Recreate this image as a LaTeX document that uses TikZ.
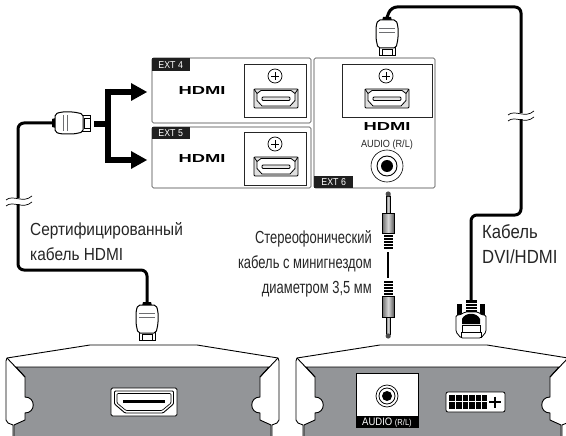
\documentclass[tikz,border=0pt]{standalone}
\usepackage{fontspec}
\usepackage{graphicx}
\setmainfont[FakeStretch=0.88]{Liberation Sans}
\newfontfamily\condfont[FakeStretch=0.74]{Liberation Sans}
\newfontfamily\plainfont{Liberation Sans}
\usetikzlibrary{arrows.meta}
\definecolor{panelgray}{HTML}{939598}
\definecolor{linegray}{HTML}{6D6E71}
\tikzset{
  x=1pt,y=-1pt,
  cable/.style={line width=3pt,black,rounded corners=6pt},
  panel/.style={draw=black!75,line width=.7pt,rounded corners=1.5pt,fill=white},
  inner/.style={draw=black!85,line width=.7pt,fill=white},
  tag/.style={fill=black!88,text=white,inner sep=0pt,font=\fontsize{10}{10}\selectfont},
  caption/.style={font=\fontsize{17.5}{18}\selectfont,inner sep=0pt,text=black!85},
  bigcaption/.style={font=\fontsize{19}{18}\selectfont},
  condcaption/.style={font=\condfont\fontsize{17.5}{18}\selectfont},
  split/.style={line width=6pt,black},
  plugline/.style={draw=black,line width=.8pt,fill=white},
  wire/.style={line width=.9pt,black},
}
\newcommand{\hdmiplug}[3]{%
  \begin{scope}[shift={(#1,#2)},rotate=#3]
    \fill[black] (-4,-3) -- (4,-3) -- (5,1) -- (-5,1) -- cycle;
    \draw[plugline,line width=.9pt] (-8,26) rectangle (8,35);
    \draw[plugline,fill=white] (-5,29) rectangle (5,35);
    \draw[plugline,rounded corners=2pt,line width=1pt] (-9,0) -- (9,0) -- (11,6) -- (11,19) -- (9,28) -- (-9,28) -- (-11,19) -- (-11,6) -- cycle;
    \draw[line width=.9pt,linegray] (-8,8) -- (8,8) (-8,12) -- (8,12);
  \end{scope}}
\newcommand{\plusmark}[2]{%
  \draw[line width=.7pt,fill=white] (#1,#2) circle (7);
  \draw[line width=.7pt] (#1-4,#2) -- (#1+4,#2) (#1,#2-4) -- (#1,#2+4);}
\newcommand{\hdmiport}[2]{%
  \begin{scope}[shift={(#1,#2)}]
    \draw[line width=.8pt,fill=black!12,rounded corners=1pt] (-22,-9.5) rectangle (22,9.5);
    \draw[line width=.8pt,fill=white] (-19,-5) -- (-15,-8) -- (15,-8) -- (19,-5) -- (19,2) -- (14,7.5) -- (-14,7.5) -- (-19,2) -- cycle;
    \draw[line width=.7pt] (-22,-9.5) -- (-19,-5) (22,-9.5) -- (19,-5);
    \draw[line width=.8pt,fill=black!10,rounded corners=1pt] (-14,-1.5) rectangle (14,2);
  \end{scope}}
\newcommand{\hdmilogo}[2]{%
  \node[inner sep=0pt] at (#1,#2) {\resizebox{47pt}{8pt}{\plainfont\bfseries HDMI}};}
\newcommand{\source}[1]{%
  \begin{scope}[shift={(#1,0)}]
    \draw[line width=.9pt,fill=white,line join=round] (13,440) -- (13,425) -- (8,423) -- (6,420) -- (6,361) -- (7,358) -- (90,345) -- (197,345) -- (278,358) -- (279,361) -- (279,420) -- (277,423) -- (272,425) -- (272,440) -- cycle;
    \draw[line width=.9pt,fill=panelgray] (16,367) -- (269,367) -- (260,377) -- (260,397) .. controls (249,397) and (249,413) .. (260,413) -- (260,420) -- (271,425) -- (271,440) -- (14,440) -- (14,425) -- (25,420) -- (25,413) .. controls (36,413) and (36,397) .. (25,397) -- (25,377) -- cycle;
    \draw[line width=.9pt] (7,358) -- (25,377) (278,358) -- (260,377);
  \end{scope}}
\newcommand{\wavebreak}[2]{%
  \begin{scope}[shift={(#1,#2)}]
    \fill[white] (-11,-3) rectangle (11,3);
    \draw[line width=.7pt] (-13,-1) .. controls (-6,-7) and (4,3) .. (13,-5);
    \draw[line width=.7pt] (-13,5) .. controls (-6,-1) and (4,9) .. (13,1);
  \end{scope}}
\begin{document}
\begin{tikzpicture}
\useasboundingbox (0,0) rectangle (566,436);
\clip (0,0) rectangle (566,436);
\fill[white] (0,0) rectangle (566,436);

% named cable ends
\coordinate (lefttop) at (55,123);
\coordinate (leftbot) at (147,303);
\coordinate (righttop) at (386,20);
\coordinate (rightbot) at (471,300);
\coordinate (splitstart) at (94,124);
\coordinate (splitmid) at (108,124);
\coordinate (tipa) at (147,92);
\coordinate (tipb) at (147,160);

% cables
\draw[cable] (lefttop) -- (18,123) -- (18,270) -- (147,270) -- (leftbot);
\draw[cable] (righttop) -- (391,7) -- (521,7) -- (521,215) -- (471,215) -- (rightbot);
\wavebreak{19}{201}
\wavebreak{521}{116}

% plugs
\hdmiplug{55}{123}{90}
\hdmiplug{147}{305}{0}
\hdmiplug{387}{20}{0}

% split arrows
\draw[split] (splitstart) -- (splitmid);
\draw[split] (105,92) -- (132,92);
\draw[split] (105,160) -- (132,160);
\draw[split] (108,89) -- (108,163);
\fill[black] (tipa) -- (131,83) -- (131,101) -- cycle;
\fill[black] (tipb) -- (131,151) -- (131,169) -- cycle;

% terminal panels
\draw[panel] (152,58) rectangle (311,123);
\draw[panel] (152,127) rectangle (311,188);
\draw[panel] (314,58) rectangle (435,188);
\draw[inner] (244,64) rectangle (306,117);
\draw[inner] (244,132) rectangle (306,185);
\draw[inner] (342,64) rectangle (432,117);
\plusmark{275}{76}
\plusmark{275}{144}
\plusmark{386}{76}
\hdmiport{276}{98.5}
\hdmiport{276}{166.5}
\hdmiport{387}{98.5}
\hdmilogo{202}{91}
\hdmilogo{202}{158}
\hdmilogo{387}{127}

\node[tag,minimum width=38pt,minimum height=13pt,anchor=north west] (ext4) at (151.5,58) {EXT 4};
\node[tag,minimum width=38pt,minimum height=12pt,anchor=north west] (ext5) at (151.5,127) {EXT 5};
\node[tag,minimum width=39pt,minimum height=12pt,anchor=south west] (ext6) at (314,188) {EXT 6};
\node[inner sep=0pt,font=\fontsize{10.4}{10}\selectfont,text=black!85] (audiotop) at (387,145) {AUDIO (R/L)};
\draw[line width=.6pt,fill=white] (387,166) circle (16);
\draw[line width=.9pt,fill=white] (387,166) circle (10);
\fill[black] (387,166) circle (6);

% audio cable
\coordinate (audiotopend) at (388,252);
\coordinate (audiobotend) at (388,278);
\draw[line width=2pt] (audiotopend) -- (audiobotend);
\foreach \yy in {236,239,242,245,248}{\draw[line width=1.5pt] (384,\yy) -- (393,\yy);}
\foreach \yy in {282,285,288,291,294}{\draw[line width=1.5pt] (384,\yy) -- (393,\yy);}
\draw[line width=.6pt,left color=black!55,right color=black!55,middle color=black!15] (386,196) rectangle (390.5,213);
\fill[black!70] (388.2,194) circle (2.6);
\draw[line width=.8pt,left color=black!60,right color=black!70,middle color=black!15] (382,213) rectangle (394.5,233);
\draw[line width=.8pt,left color=black!60,right color=black!70,middle color=black!15] (382,296) rectangle (394.5,317);
\draw[line width=.6pt,left color=black!55,right color=black!55,middle color=black!15] (386,317) rectangle (390.5,334);
\fill[black!70] (388.2,336) circle (2.6);

% sources
\source{0}
\source{290}

% left port
\draw[line width=.8pt,fill=white,rounded corners=1.5pt] (111,388) rectangle (177,416);
\draw[line width=.9pt,fill=white,rounded corners=1pt] (114.5,391) -- (173.5,391) -- (173.5,404) -- (163,413) -- (125,413) -- (114.5,404) -- cycle;
\draw[line width=.7pt,rounded corners=1pt] (117,393.5) -- (171,393.5) -- (171,403) -- (162,410.5) -- (126,410.5) -- (117,403) -- cycle;
\fill[black] (123,400) rectangle (165,403);

% right audio panel
\draw[line width=.7pt,fill=white] (356,373) rectangle (418,427);
\fill[black] (356,416) rectangle (418,427);
\node[text=white,inner sep=0pt,anchor=base west] (audiobot) at (362,425) {\fontsize{10.8}{10}\selectfont AUDIO \fontsize{8.6}{10}\selectfont(R/L)};
\draw[line width=.7pt,fill=white] (387,396) circle (11);
\draw[line width=.8pt,fill=white] (387,396) circle (8);
\fill[black] (387,396) circle (5);

% DVI port
\draw[line width=.8pt,fill=white,rounded corners=2pt] (446,392) rectangle (505,412);
\fill[black] (449,395) rectangle (487,408.5);
\foreach \xx in {455.5,462,468.5,475,481.5}{\draw[white,line width=.7pt] (\xx,395) -- (\xx,408.5);}
\draw[white,line width=.7pt] (449,401.7) -- (487,401.7);
\draw[line width=1.8pt] (489,402) -- (501,402) (495,396.5) -- (495,407.5);

% DVI plug
\fill[black] (457,304) rectangle (462,315);
\fill[black] (480,304) rectangle (485,315);
\fill[black] (466,300) rectangle (477,312);
\foreach \yy in {303,306,309}{\draw[white,line width=.5pt] (466,\yy) -- (477,\yy);}
\draw[plugline,rounded corners=1.5pt] (456,315) -- (460,315) -- (465,312) -- (478,312) -- (482,315) -- (486,315) -- (486,332) -- (481,338) -- (461,338) -- (456,332) -- cycle;
\fill[black] (462,324) -- (462,319) .. controls (465,312) and (477,312) .. (480,319) -- (480,324) -- cycle;
\draw[plugline] (462,325.5) rectangle (480,332);
\draw[line width=.8pt] (461,338) -- (461,332) (481,338) -- (481,332);

% captions
\node[caption,anchor=base west] (cap1) at (30,235) {Сертифицированный};
\node[caption,anchor=base west] (cap2) at (30,260) {кабель HDMI};
\node[caption,bigcaption,anchor=base west] (cap3) at (482,239) {Кабель};
\node[caption,bigcaption,anchor=base west] (cap4) at (482,263) {DVI/HDMI};
\node[caption,condcaption,anchor=base east] (cap5) at (372,243.5) {Стереофонический};
\node[caption,condcaption,anchor=base east] (cap6) at (372,268.5) {кабель с минигнездом};
\node[caption,condcaption,anchor=base east] (cap7) at (372,293.5) {диаметром 3,5 мм};
\end{tikzpicture}
\end{document}
